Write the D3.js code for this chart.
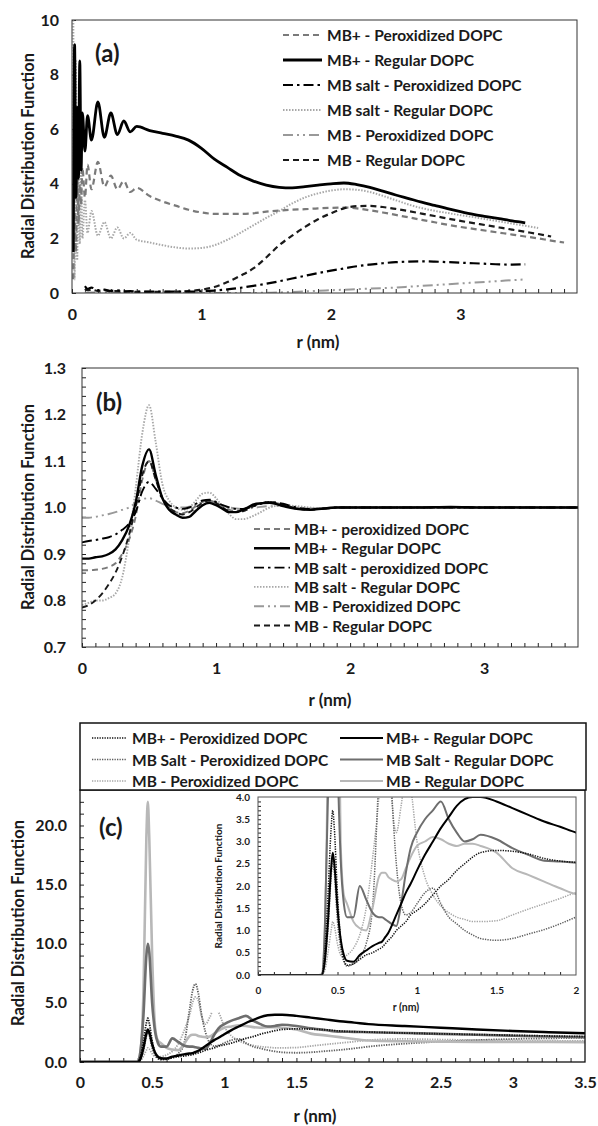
<!DOCTYPE html>
<html><head><meta charset="utf-8">
<script src="https://cdn.jsdelivr.net/npm/d3@7"></script>
<style>
body{margin:0;background:#fff}
svg{display:block}
text{font-family:Lato,'Open Sans',sans-serif;font-weight:700;fill:#1a1a1a}
</style>
</head><body>
<svg id="chart" width="598" height="1126"></svg>
<script>
// ---------------- DATA ----------------
// Panel (a)
const rA = [0.01,0.02,0.03,0.04,0.05,0.06,0.07,0.08,0.1,0.12,0.15,0.2,0.25,0.3,0.35,0.4,0.45,0.5,
  0.6,0.7,0.8,0.9,1.0,1.1,1.2,1.3,1.4,1.5,1.6,1.7,1.8,1.9,2.0,2.1,2.2,2.3,2.4,2.5,2.6,2.7,2.8,2.9,3.0,3.1,3.2,3.3,3.4,3.5,3.6,3.7,3.8];
const a_mbpPer = [0.5,3.0,1.5,4.5,2.5,4.0,3.2,4.6,3.5,4.7,3.8,4.8,3.9,4.3,3.8,4.1,3.7,3.85,
  3.55,3.35,3.2,3.05,2.95,2.9,2.9,2.9,2.92,2.98,3.02,3.05,3.07,3.1,3.12,3.13,3.1,3.03,2.95,2.86,2.77,2.68,2.59,2.5,2.42,2.35,2.28,2.21,2.14,2.07,2.0,1.92,1.85];
const a_mbpReg = [1.5,9.1,3.5,6.8,4.2,8.5,4.5,6.6,5.2,6.5,5.6,7.0,5.7,6.6,5.8,6.3,5.9,6.1,
  5.95,5.85,5.75,5.6,5.3,4.9,4.6,4.3,4.1,3.95,3.87,3.85,3.9,3.95,4.0,4.03,3.97,3.87,3.73,3.59,3.46,3.33,3.21,3.09,2.98,2.88,2.8,2.72,2.64,2.57,null,null,null];
const a_mbsPer = [null,null,null,null,null,null,null,null,0.25,0.15,0.2,0.1,0.12,0.08,0.1,0.06,0.07,0.05,
  0.05,0.05,0.05,0.05,0.06,0.09,0.13,0.19,0.26,0.34,0.43,0.53,0.63,0.73,0.82,0.9,0.98,1.04,1.09,1.13,1.15,1.16,1.15,1.13,1.11,1.09,1.07,1.05,1.04,1.05,null,null,null];
const a_mbsReg = [10,0.5,8.5,1.2,6,1.8,4.5,2.0,3.4,2.2,3.0,2.1,2.6,2.0,2.4,2.0,2.2,1.95,
  1.85,1.75,1.67,1.63,1.65,1.75,1.95,2.2,2.48,2.75,3.0,3.28,3.5,3.65,3.75,3.8,3.78,3.7,3.56,3.4,3.24,3.11,3.01,2.93,2.85,2.78,2.7,2.62,2.54,2.46,2.38,null,null];
const a_mbPer = [null,null,null,null,null,null,null,null,0.02,0.01,0.02,0.01,0.01,0,0.01,0,0,0,
  0,0,0,0,0,0,0,0,0,0.01,0.02,0.04,0.06,0.08,0.1,0.12,0.14,0.16,0.18,0.2,0.23,0.26,0.29,0.32,0.35,0.38,0.41,0.44,0.47,0.5,null,null,null];
const a_mbReg = [null,null,null,null,null,null,null,null,0.15,0.1,0.12,0.08,0.1,0.06,0.07,0.05,0.05,0.04,
  0.04,0.04,0.05,0.07,0.12,0.22,0.4,0.63,0.9,1.3,1.75,2.1,2.42,2.7,2.92,3.1,3.18,3.19,3.15,3.08,3.0,2.91,2.82,2.73,2.64,2.56,2.48,2.4,2.32,2.24,2.16,2.07,null];
const aTicksX = [0,1,2,3];
const aTicksY = [0,2,4,6,8,10];
const aLegend = ["MB+ - Peroxidized DOPC","MB+ - Regular DOPC","MB salt - Peroxidized DOPC","MB salt - Regular DOPC","MB - Peroxidized DOPC","MB - Regular DOPC"];

// Panel (b)
const rB = [0,0.05,0.1,0.15,0.2,0.25,0.3,0.35,0.4,0.45,0.5,0.55,0.6,0.65,0.7,0.75,0.8,0.85,0.9,0.95,1.0,1.05,1.1,1.15,1.2,
  1.3,1.4,1.5,1.6,1.7,1.8,1.9,2.0,2.25,2.5,2.75,3.0,3.25,3.5,3.7];
const b_mbpPer = [0.865,0.865,0.866,0.868,0.872,0.88,0.9,0.93,0.98,1.06,1.1,1.06,1.02,1.0,0.99,0.988,0.993,1.003,1.012,1.015,1.01,1.002,0.995,0.993,0.995,
  1.006,1.012,1.006,0.999,0.996,0.998,1.0,1.0,1.0,1.001,1.0,1.0,1.001,1.0,1.0];
const b_mbpReg = [0.89,0.89,0.893,0.895,0.9,0.91,0.93,0.96,1.01,1.09,1.125,1.07,1.02,0.995,0.985,0.978,0.98,0.993,1.005,1.01,1.005,0.997,0.99,0.99,0.995,
  1.008,1.01,1.003,0.997,0.995,0.998,1.0,1.0,1.0,1.0,1.001,1.0,1.0,1.0,1.0];
const b_mbsPer = [0.925,0.928,0.93,0.933,0.936,0.942,0.952,0.965,0.99,1.035,1.055,1.04,1.02,1.005,1.0,0.997,1.0,1.008,1.015,1.017,1.012,1.005,1.0,0.997,0.997,
  1.005,1.012,1.008,1.0,0.997,0.997,1.0,1.0,1.0,1.0,1.0,1.0,1.0,1.0,1.0];
const b_mbsReg = [0.79,0.795,0.8,0.8,0.805,0.815,0.85,0.93,1.04,1.16,1.22,1.14,1.05,1.015,1.0,0.995,1.0,1.015,1.03,1.032,1.02,1.0,0.985,0.975,0.975,
  0.985,1.0,1.005,1.003,1.0,0.998,1.0,1.0,1.0,1.0,1.0,1.0,1.0,1.0,1.0];
const b_mbPer = [0.978,0.978,0.98,0.983,0.986,0.99,0.995,1.0,1.01,1.018,1.02,1.015,1.008,1.003,1.0,1.0,1.002,1.006,1.01,1.012,1.01,1.005,1.0,0.998,0.997,
  1.0,1.003,1.003,1.0,0.998,0.999,1.0,1.0,1.0,1.0,1.0,1.0,1.0,1.0,1.0];
const b_mbReg = [0.785,0.79,0.8,0.815,0.835,0.86,0.895,0.94,1.0,1.07,1.1,1.06,1.02,1.0,0.99,0.985,0.99,1.0,1.01,1.015,1.01,1.0,0.992,0.99,0.992,
  1.005,1.012,1.006,0.998,0.995,0.998,1.0,1.0,1.0,1.0,1.0,1.0,1.0,1.0,1.0];
const bTicksX = [0,1,2,3];
const bTicksY = [0.7,0.8,0.9,1.0,1.1,1.2,1.3];
const bLegend = ["MB+ - peroxidized DOPC","MB+ - Regular DOPC","MB salt - peroxidized DOPC","MB salt - Regular DOPC","MB - Peroxidized DOPC","MB - Regular DOPC"];

// Panel (c)
const rC = [0,0.38,0.4,0.42,0.44,0.46,0.47,0.48,0.5,0.52,0.54,0.56,0.6,0.64,0.68,0.72,0.76,0.78,0.8,0.82,0.84,0.87,0.9,0.93,0.96,
  1.0,1.05,1.1,1.15,1.2,1.25,1.3,1.35,1.4,1.5,1.6,1.7,1.8,1.9,2.0,2.25,2.5,2.75,3.0,3.25,3.5];
const c_mbpPer = [0,0,0,0.5,1.8,3.3,3.7,3.3,1.8,0.8,0.35,0.22,0.25,0.35,0.45,0.5,0.58,0.62,0.7,0.78,0.85,1.0,1.1,1.2,1.35,
  1.45,1.6,1.8,2.0,2.15,2.35,2.5,2.65,2.75,2.8,2.78,2.72,2.62,2.56,2.53,2.45,2.38,2.32,2.26,2.2,2.15];
const c_mbpReg = [0,0,0,0.3,1.2,2.4,2.75,2.5,1.5,0.8,0.45,0.32,0.3,0.45,0.55,0.65,0.72,0.75,0.85,0.95,1.1,1.35,1.6,1.85,2.05,
  2.35,2.7,3.0,3.3,3.55,3.8,3.95,4.0,4.0,3.9,3.75,3.6,3.45,3.33,3.2,3.05,2.9,2.75,2.62,2.52,2.43];
const c_mbsPer = [0,0,0,0.3,1.0,2.2,2.6,2.3,1.2,0.6,0.3,0.2,0.25,0.4,0.7,1.5,4.5,6.0,6.6,5.8,4.2,2.5,1.6,1.35,1.4,
  1.6,1.85,1.95,1.6,1.3,1.15,1.0,0.9,0.82,0.78,0.82,0.92,1.02,1.15,1.3,1.55,1.72,1.85,1.95,2.0,2.05];
const c_mbsReg = [0,0,0,1,4,9,10,9.3,5,2.6,1.6,1.3,1.3,2.0,1.7,1.4,1.3,1.3,1.25,1.2,1.15,1.1,1.6,2.3,2.85,
  3.2,3.5,3.7,3.9,3.5,3.2,3.0,3.05,3.15,3.05,2.85,2.7,2.57,2.55,2.52,2.45,2.38,2.3,2.22,2.15,2.1];
const c_mbPer = [0,0,0,0.1,0.5,1.0,1.2,1.1,0.7,0.45,0.4,0.45,0.6,0.9,1.5,2.6,4.0,5.0,5.5,5.2,4.0,3.2,3.8,4.5,4.2,
  3.0,2.2,1.8,1.55,1.4,1.3,1.25,1.2,1.2,1.22,1.35,1.48,1.6,1.72,1.85,1.95,1.9,1.85,1.82,1.8,1.78];
const c_mbReg = [0,0,0.02,1.0,6,19,22,19,9,3,1.8,1.6,1.2,1.05,1.0,1.5,2.2,2.3,2.3,2.2,2.15,2.1,2.15,2.4,2.65,
  2.9,3.0,3.1,3.05,2.95,2.9,2.95,2.95,2.9,2.75,2.4,2.25,2.1,1.95,1.82,1.75,1.72,1.7,1.7,1.7,1.68];
const cTicksX = [0,0.5,1,1.5,2,2.5,3,3.5];
const cTicksY = [0,5,10,15,20];
const cInsetTicksX = [0,0.5,1,1.5,2];
const cInsetTicksY = [0,0.5,1,1.5,2,2.5,3,3.5,4];
const cLegendLeft = ["MB+ - Peroxidized DOPC","MB Salt - Peroxidized DOPC","MB - Peroxidized DOPC"];
const cLegendRight = ["MB+ - Regular DOPC","MB Salt - Regular DOPC","MB - Regular DOPC"];

// ---------------- DRAWING ----------------
const svg = d3.select('#chart');
const FONT = "Lato, 'Open Sans', sans-serif";
let clipN = 0;

function panel(o){
  const x = d3.scaleLinear().domain(o.xd).range([o.l,o.r]);
  const y = d3.scaleLinear().domain(o.yd).range([o.b,o.t]);
  const g = svg.append('g');
  const cid = 'clip'+(clipN++);
  svg.append('clipPath').attr('id',cid).append('rect')
    .attr('x',o.l).attr('y',o.t).attr('width',o.r-o.l).attr('height',o.b-o.t);
  const mx = g.append('g').attr('transform',`translate(0,${o.b})`)
    .call(d3.axisBottom(x).tickValues(o.xMinor).tickSize(-o.tl).tickFormat(''));
  mx.select('.domain').remove();
  mx.selectAll('line').attr('stroke','#222').attr('stroke-width',1);
  const my = g.append('g').attr('transform',`translate(${o.l},0)`)
    .call(d3.axisLeft(y).tickValues(o.yMinor).tickSize(-o.tl).tickFormat(''));
  my.select('.domain').remove();
  my.selectAll('line').attr('stroke','#222').attr('stroke-width',1);
  const lx = g.append('g').attr('transform',`translate(0,${o.b})`)
    .call(d3.axisBottom(x).tickValues(o.xLab).tickSize(0).tickPadding(o.xpad).tickFormat(o.xfmt));
  lx.select('.domain').remove();
  lx.attr('font-family',FONT).attr('font-size',o.fs).attr('font-weight',700);
  lx.selectAll('text').attr('fill','#1a1a1a');
  const ly = g.append('g').attr('transform',`translate(${o.l},0)`)
    .call(d3.axisLeft(y).tickValues(o.yLab).tickSize(0).tickPadding(o.ypad).tickFormat(o.yfmt));
  ly.select('.domain').remove();
  ly.attr('font-family',FONT).attr('font-size',o.fs).attr('font-weight',700);
  ly.selectAll('text').attr('fill','#1a1a1a');
  const lg = g.append('g').attr('clip-path',`url(#${cid})`);
  o.series.forEach(s=>{
    const pts = o.rs.map((r,i)=>[r,s.v[i]]);
    lg.append('path').datum(pts)
      .attr('fill','none').attr('stroke',s.c).attr('stroke-width',s.w)
      .attr('stroke-dasharray',s.d||null).attr('stroke-linejoin','round')
      .attr('d',d3.line().defined(d=>d[1]!=null).x(d=>x(d[0])).y(d=>y(d[1])).curve(d3.curveMonotoneX));
  });
  g.append('rect').attr('x',o.l).attr('y',o.t).attr('width',o.r-o.l).attr('height',o.b-o.t)
    .attr('fill','none').attr('stroke',o.frame||'#333').attr('stroke-width',o.fw||1);
  return {x,y,g};
}

function yTitle(txt,x,cy,fs){
  svg.append('text').attr('transform',`translate(${x},${cy}) rotate(-90)`)
    .attr('text-anchor','middle').attr('dominant-baseline','central')
    .attr('font-size',fs).text(txt);
}
function xTitle(txt,cx,cy,fs){
  svg.append('text').attr('x',cx).attr('y',cy).attr('text-anchor','middle')
    .attr('dominant-baseline','central').attr('font-size',fs).text(txt);
}
function tag(txt,x,y){
  svg.append('text').attr('x',x).attr('y',y).attr('font-size',24).text(txt);
}

const styA = [
  {c:'#7a7a7a',d:'6,4',w:2.2},
  {c:'#000',d:null,w:2.8},
  {c:'#000',d:'10,4,2.5,4',w:2.2},
  {c:'#a8a8a8',d:'1.5,1.5',w:2},
  {c:'#999',d:'10,4,2,4,2,4',w:2},
  {c:'#1a1a1a',d:'6,4',w:2.2}
];
const fmtInt = d3.format('d');
const fmt1 = d3.format('.1f');
const fmtG = d3.format('~g');
const LFS = 15.5;

// ---- Panel (a)
const seriesA = [a_mbpPer,a_mbpReg,a_mbsPer,a_mbsReg,a_mbPer,a_mbReg];
const orderA = [4,3,0,5,2,1];
panel({xd:[0,3.9],yd:[0,10],l:72,r:577,t:20,b:293,tl:4,
  xMinor:d3.range(0,39).map(i=>i/10),yMinor:aTicksY,
  xLab:aTicksX,yLab:aTicksY,xfmt:fmtInt,yfmt:fmtInt,xpad:16,ypad:13,fs:16,
  rs:rA,series:orderA.map(i=>({v:seriesA[i],...styA[i]}))});
yTitle('Radial Distribution Function',28,156,16.5);
xTitle('r (nm)',318,341,17);
tag('(a)',95,62);
aLegend.forEach((t,i)=>{
  const yy = 35+i*25;
  svg.append('line').attr('x1',283).attr('x2',322).attr('y1',yy).attr('y2',yy)
    .attr('stroke',styA[i].c).attr('stroke-width',styA[i].w).attr('stroke-dasharray',styA[i].d);
  svg.append('text').attr('x',327).attr('y',yy).attr('dominant-baseline','central').attr('font-size',LFS).text(t);
});

// ---- Panel (b)
const seriesB = [b_mbpPer,b_mbpReg,b_mbsPer,b_mbsReg,b_mbPer,b_mbReg];
const styB = styA.map((s,i)=>({...s,w:i===1?2.4:1.9}));
panel({xd:[0,3.7],yd:[0.7,1.3],l:82,r:578,t:368,b:647,tl:4,
  xMinor:d3.range(0,37).map(i=>i/10),yMinor:d3.range(0,31).map(i=>0.7+i*0.02),
  xLab:bTicksX,yLab:bTicksY,xfmt:fmtInt,yfmt:fmt1,xpad:16,ypad:16,fs:16,
  rs:rB,series:orderA.map(i=>({v:seriesB[i],...styB[i]}))});
yTitle('Radial Distribution Function',28,507,16.5);
xTitle('r (nm)',330,699,17);
tag('(b)',96,411);
bLegend.forEach((t,i)=>{
  const yy = 529+i*19.3;
  svg.append('line').attr('x1',254).attr('x2',290).attr('y1',yy).attr('y2',yy)
    .attr('stroke',styB[i].c).attr('stroke-width',styB[i].w).attr('stroke-dasharray',styB[i].d);
  svg.append('text').attr('x',294).attr('y',yy).attr('dominant-baseline','central').attr('font-size',LFS).text(t);
});

// ---- Panel (c)
const styC = {
  mbpPer:{c:'#111',d:'1.3,1.2',w:1.8},
  mbsPer:{c:'#5e5e5e',d:'1.3,1.2',w:1.8},
  mbPer:{c:'#a5a5a5',d:'1.3,1.2',w:1.8},
  mbpReg:{c:'#000',d:null,w:2.4},
  mbsReg:{c:'#6e6e6e',d:null,w:2.6},
  mbReg:{c:'#b8b8b8',d:null,w:2.6}
};
const seriesC = [
  {v:c_mbPer,...styC.mbPer},{v:c_mbsPer,...styC.mbsPer},{v:c_mbReg,...styC.mbReg},
  {v:c_mbsReg,...styC.mbsReg},{v:c_mbpPer,...styC.mbpPer},{v:c_mbpReg,...styC.mbpReg}
];
panel({xd:[0,3.5],yd:[0,23],l:80,r:585,t:790,b:1062,tl:4,fw:1.3,frame:'#111',
  xMinor:d3.range(0,35).map(i=>i/10),yMinor:d3.range(0,23),
  xLab:cTicksX,yLab:cTicksY,xfmt:fmtG,yfmt:fmt1,xpad:15,ypad:13,fs:16,
  rs:rC,series:seriesC});
yTitle('Radial Distribution Function',18,923,16.5);
xTitle('r (nm)',315,1115,17);
tag('(c)',99,836);
svg.append('rect').attr('x',80).attr('y',723).attr('width',506).attr('height',67)
  .attr('fill','#fff').attr('stroke','#111').attr('stroke-width',1.5);
const legC = [
  [cLegendLeft[0],styC.mbpPer,0],[cLegendLeft[1],styC.mbsPer,0],[cLegendLeft[2],styC.mbPer,0],
  [cLegendRight[0],styC.mbpReg,1],[cLegendRight[1],styC.mbsReg,1],[cLegendRight[2],styC.mbReg,1]
];
legC.forEach((L,k)=>{
  const row = k%3, col = L[2];
  const yy = 738+row*21.5;
  const x1 = col? 340:92, x2 = col? 383:126, tx = col? 386:132;
  svg.append('line').attr('x1',x1).attr('x2',x2).attr('y1',yy).attr('y2',yy)
    .attr('stroke',L[1].c).attr('stroke-width',col?2.2:1.5).attr('stroke-dasharray',L[1].d);
  svg.append('text').attr('x',tx).attr('y',yy).attr('dominant-baseline','central').attr('font-size',LFS).text(L[0]);
});
// inset
svg.append('rect').attr('x',208).attr('y',793).attr('width',374).attr('height',219).attr('fill','#fff');
panel({xd:[0,2],yd:[0,4],l:258,r:576,t:797,b:975,tl:3,frame:'#555',
  xMinor:d3.range(0,20).map(i=>i/10),yMinor:d3.range(0,40).map(i=>i/10),
  xLab:cInsetTicksX,yLab:cInsetTicksY,xfmt:fmtG,yfmt:fmt1,xpad:11.5,ypad:8,fs:10,
  rs:rC,series:seriesC.map(s=>({...s,w:s.d?1.5:2}))});
yTitle('Radial Distribution Function',218,886,10);
xTitle('r (nm)',406,1007,10.5);
</script>
</body></html>
